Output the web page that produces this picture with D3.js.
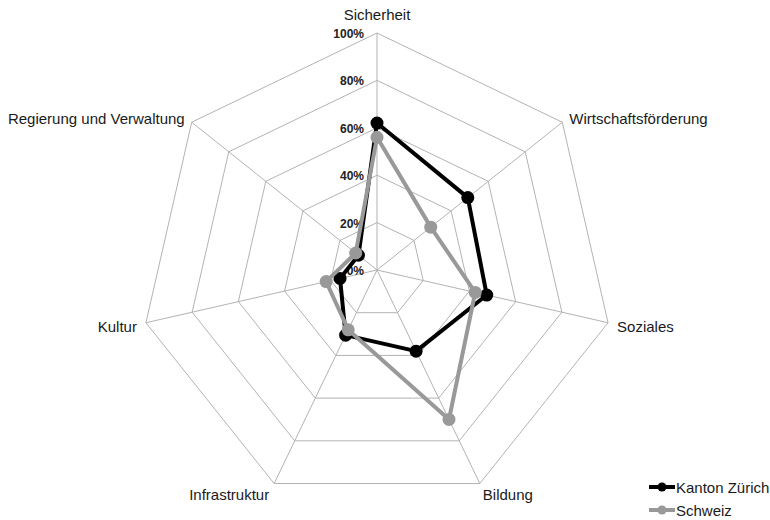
<!DOCTYPE html>
<html><head><meta charset="utf-8">
<script src="https://cdn.jsdelivr.net/npm/d3@7"></script>
<style>body{margin:0;background:#fff}svg{display:block;font-family:"Liberation Sans",Arial,sans-serif}</style>
</head><body><svg id="c" width="770" height="520"></svg>
<script>
const categories = ["Sicherheit","Wirtschaftsförderung","Soziales","Bildung","Infrastruktur","Kultur","Regierung und Verwaltung"];
const seriesNames = ["Kanton Zürich","Schweiz"];
const zuerich = [62, 49, 47.5, 38, 30.5, 16, 10];
const schweiz = [56, 29, 42.5, 70, 28, 22, 11.5];
const tickValues = [0, 20, 40, 60, 80, 100];
const tickLabels = ["0%","20%","40%","60%","80%","100%"];
const colors = ["#000000", "#999999"];

const svg = d3.select("#c");
const cx = 377, cy = 270, R = 237;
const r = d3.scaleLinear().domain([0, 100]).range([0, R]);
const n = categories.length;
const ang = i => -Math.PI/2 + i * 2*Math.PI/n;
const pt = (i, v) => [cx + Math.cos(ang(i))*r(v), cy + Math.sin(ang(i))*r(v)];

const grid = svg.append("g").attr("stroke", "#b3b3b3").attr("stroke-width", 1).attr("fill", "none");
tickValues.filter(t => t > 0).forEach(t => {
  grid.append("path").attr("d", d3.line()(d3.range(n).map(i => pt(i, t))) + "Z");
});
d3.range(n).forEach(i => {
  const p = pt(i, 100);
  grid.append("line").attr("x1", cx).attr("y1", cy).attr("x2", p[0]).attr("y2", p[1]);
});

// tick labels
svg.append("g").selectAll("text").data(tickValues).join("text")
  .attr("x", cx - 13).attr("y", d => cy - r(d) + 5)
  .attr("text-anchor", "end").attr("font-size", 12).attr("font-weight", "bold").attr("fill", "#222")
  .text((d, i) => tickLabels[i]);

// category labels
const labelPos = [
  {dx: 0, dy: -13, anchor: "middle"},
  {dx: 7, dy: 2, anchor: "start"},
  {dx: 9, dy: 9, anchor: "start"},
  {dx: 3, dy: 16, anchor: "start"},
  {dx: -5, dy: 16, anchor: "end"},
  {dx: -9, dy: 9, anchor: "end"},
  {dx: -7, dy: 2, anchor: "end"}
];
svg.append("g").selectAll("text").data(categories).join("text")
  .attr("x", (d, i) => pt(i, 100)[0] + labelPos[i].dx)
  .attr("y", (d, i) => pt(i, 100)[1] + labelPos[i].dy)
  .attr("text-anchor", (d, i) => labelPos[i].anchor)
  .attr("font-size", 15).attr("fill", "#1a1a1a")
  .text(d => d);

// series
[zuerich, schweiz].forEach((vals, s) => {
  const g = svg.append("g");
  const pts = vals.map((v, i) => pt(i, v));
  g.append("path").attr("d", d3.line()(pts) + "Z")
    .attr("fill", "none").attr("stroke", colors[s]).attr("stroke-width", 4).attr("stroke-linejoin", "round");
  g.selectAll("circle").data(pts).join("circle")
    .attr("cx", d => d[0]).attr("cy", d => d[1]).attr("r", 6.5).attr("fill", colors[s]);
});

// legend
const leg = svg.append("g");
seriesNames.forEach((name, s) => {
  const y = 487 + s * 23;
  leg.append("line").attr("x1", 649).attr("x2", 675).attr("y1", y).attr("y2", y)
    .attr("stroke", colors[s]).attr("stroke-width", 4);
  leg.append("circle").attr("cx", 662).attr("cy", y).attr("r", 4.5).attr("fill", colors[s]);
  leg.append("text").attr("x", 676).attr("y", y + 6).attr("font-size", 15).attr("fill", "#1a1a1a").text(name);
});
</script></body></html>
